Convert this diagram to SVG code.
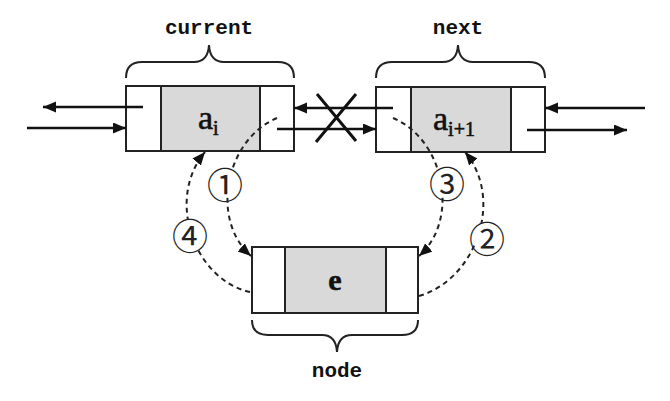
<svg xmlns="http://www.w3.org/2000/svg" width="670" height="401" viewBox="0 0 670 401">
<defs>
<marker id="ah" markerUnits="userSpaceOnUse" markerWidth="14" markerHeight="12" refX="13" refY="5.5" orient="auto"><path d="M0,0 L13,5.5 L0,11 z" fill="#111"/></marker>
<style>
.cell{fill:#fff;stroke:#222;stroke-width:2}
.data{fill:#d9d9d9;stroke:#222;stroke-width:2}
.brace{fill:none;stroke:#222;stroke-width:2}
.lbl{font-family:"Liberation Mono",monospace;font-weight:bold;font-size:21px;fill:#111;text-anchor:middle}
.val{font-family:"Liberation Serif",serif;fill:#111;stroke:#111;stroke-width:0.6}
.ln{fill:none;stroke:#111;stroke-width:2.5;marker-end:url(#ah)}
.dash{fill:none;stroke:#222;stroke-width:2;stroke-dasharray:5 4;marker-end:url(#ah)}
.num{font-family:"Noto Sans CJK SC","DejaVu Sans",sans-serif;font-size:36px;fill:#222;text-anchor:middle;dominant-baseline:central}
</style>
</defs>
<rect width="670" height="401" fill="#fff"/>
<g id="current">
<rect class="cell" x="126" y="86" width="35" height="65"/>
<rect class="data" x="161" y="86" width="99" height="65"/>
<rect class="cell" x="260" y="86" width="34" height="65"/>
<text class="val" x="198" y="129" font-size="34">a<tspan font-size="20" dy="6">i</tspan></text>
<path class="brace" d="M126,78 Q126,62 142,62 L194,62 Q208,62 209,45 Q210,62 224,62 L278,62 Q294,62 294,78"/>
<text class="lbl" x="209" y="34">current</text>
</g>
<g id="next">
<rect class="cell" x="376" y="87" width="35" height="65"/>
<rect class="data" x="411" y="87" width="100" height="65"/>
<rect class="cell" x="511" y="87" width="34" height="65"/>
<text class="val" x="433" y="130" font-size="34">a<tspan font-size="20" dy="6">i+1</tspan></text>
<path class="brace" d="M376,78 Q376,62 392,62 L443,62 Q457,62 458,45 Q459,62 473,62 L529,62 Q545,62 545,78"/>
<text class="lbl" x="458" y="34">next</text>
</g>
<g id="node">
<rect class="cell" x="252" y="247" width="33" height="66"/>
<rect class="data" x="285" y="247" width="101" height="66"/>
<rect class="cell" x="386" y="247" width="32" height="66"/>
<text class="val" x="335" y="290" font-size="30" font-weight="bold" text-anchor="middle">e</text>
<path class="brace" d="M252,320 Q252,335 268,335 L322,335 Q336,335 337,352 Q338,335 352,335 L402,335 Q418,335 418,320"/>
<text class="lbl" x="337" y="377">node</text>
</g>
<g id="connectors">
<line class="ln" x1="143" y1="107" x2="43" y2="107"/>
<line class="ln" x1="27" y1="128" x2="126" y2="128"/>
<line class="ln" x1="393" y1="108" x2="294" y2="108"/>
<line class="ln" x1="277" y1="129" x2="376" y2="129"/>
<line class="ln" x1="645" y1="108" x2="545" y2="108"/>
<line class="ln" x1="527" y1="130" x2="627" y2="130"/>
<path d="M317,94 L356,141 M356,94 L316,142" fill="none" stroke="#111" stroke-width="3"/>
<path class="dash" d="M277,118 C225,140 210,220 251,256"/>
<path class="dash" d="M250,292 C195,280 165,200 205,152"/>
<path class="dash" d="M393,118 C445,140 460,220 419,256"/>
<path class="dash" d="M419,296 C475,280 505,200 465,152"/>
<circle cx="225" cy="183" r="15" fill="#fff"/>
<circle cx="190" cy="234" r="15" fill="#fff"/>
<circle cx="447" cy="182" r="15" fill="#fff"/>
<circle cx="487" cy="237" r="15" fill="#fff"/>
<text class="num" x="225" y="183">①</text>
<text class="num" x="190" y="234">④</text>
<text class="num" x="447" y="182">③</text>
<text class="num" x="487" y="237">②</text>
</g>
</svg>
